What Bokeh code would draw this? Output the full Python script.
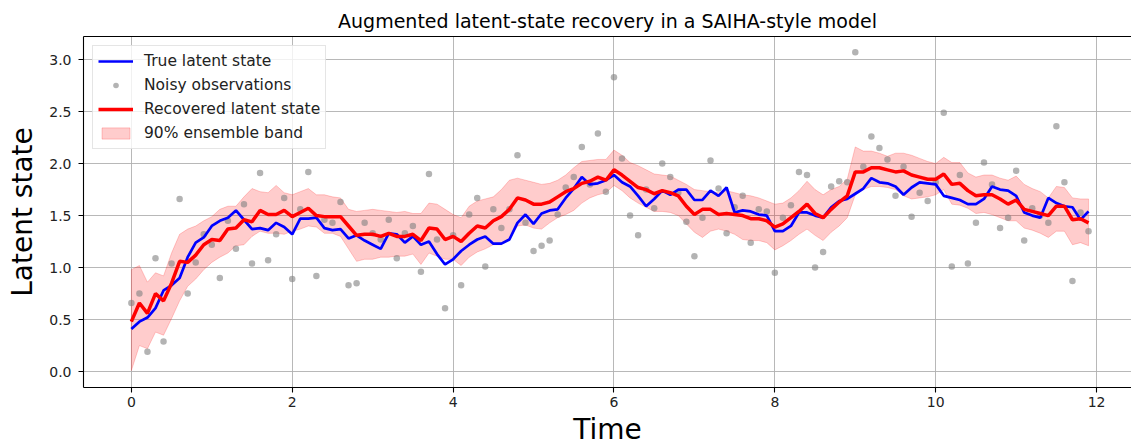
import numpy as np
from bokeh.plotting import figure
from bokeh.models import (Range1d, FixedTicker, LinearAxis, Legend, LegendItem,
                          PrintfTickFormatter)
from bokeh.embed import file_html
from bokeh.resources import INLINE

# time grid: 120 steps of 0.1
time = np.round(np.arange(120) * 0.1, 1).tolist()

true_state = [
    0.41, 0.48, 0.52, 0.61, 0.78, 0.83, 0.90, 1.10, 1.24, 1.29,
    1.40, 1.45, 1.48, 1.55, 1.46, 1.37, 1.38, 1.36, 1.43, 1.39,
    1.32, 1.47, 1.47, 1.48, 1.38, 1.36, 1.37, 1.28, 1.31, 1.26,
    1.22, 1.18, 1.33, 1.32, 1.24, 1.30, 1.22, 1.25, 1.13, 1.03,
    1.08, 1.16, 1.22, 1.27, 1.30, 1.23, 1.23, 1.27, 1.43, 1.51,
    1.42, 1.52, 1.55, 1.56, 1.67, 1.76, 1.87, 1.80, 1.81, 1.84,
    1.89, 1.82, 1.78, 1.69, 1.59, 1.66, 1.74, 1.70, 1.75, 1.75,
    1.65, 1.65, 1.74, 1.69, 1.77, 1.53, 1.55, 1.54, 1.51, 1.50,
    1.35, 1.35, 1.40, 1.53, 1.53, 1.50, 1.48, 1.58, 1.64, 1.66,
    1.71, 1.76, 1.86, 1.82, 1.81, 1.78, 1.70, 1.77, 1.82, 1.81,
    1.80, 1.69, 1.67, 1.65, 1.61, 1.61, 1.66, 1.78, 1.75, 1.74,
    1.69, 1.53, 1.50, 1.48, 1.67, 1.62, 1.59, 1.58, 1.46, 1.54,
]

recovered = [
    0.48, 0.66, 0.56, 0.75, 0.68, 0.85, 1.06, 1.05, 1.12, 1.22,
    1.27, 1.26, 1.37, 1.38, 1.46, 1.44, 1.55, 1.51, 1.51, 1.55,
    1.49, 1.53, 1.57, 1.50, 1.49, 1.49, 1.49, 1.40, 1.31, 1.32,
    1.32, 1.30, 1.33, 1.30, 1.30, 1.32, 1.26, 1.38, 1.37, 1.27,
    1.30, 1.25, 1.33, 1.40, 1.38, 1.45, 1.49, 1.56, 1.67, 1.65,
    1.61, 1.61, 1.63, 1.68, 1.73, 1.76, 1.81, 1.83, 1.87, 1.84,
    1.94, 1.89, 1.83, 1.77, 1.75, 1.71, 1.74, 1.72, 1.69, 1.59,
    1.51, 1.56, 1.56, 1.51, 1.52, 1.51, 1.50, 1.47, 1.47, 1.45,
    1.39, 1.42, 1.48, 1.54, 1.61, 1.52, 1.48, 1.56, 1.63, 1.69,
    1.92, 1.92, 1.96, 1.96, 1.94, 1.92, 1.93, 1.89, 1.87, 1.85,
    1.85, 1.90, 1.80, 1.81, 1.74, 1.69, 1.70, 1.70, 1.66, 1.61,
    1.65, 1.56, 1.54, 1.52, 1.50, 1.59, 1.59, 1.46, 1.47, 1.43,
]

band_upper = [
    0.98, 1.02, 0.86, 0.95, 0.92, 1.14, 1.32, 1.37, 1.40, 1.45,
    1.49, 1.56, 1.59, 1.59, 1.68, 1.76, 1.73, 1.72, 1.79, 1.72,
    1.70, 1.73, 1.76, 1.70, 1.70, 1.68, 1.67, 1.56, 1.54, 1.55,
    1.56, 1.55, 1.54, 1.53, 1.54, 1.52, 1.52, 1.62, 1.61, 1.56,
    1.51, 1.48, 1.59, 1.64, 1.66, 1.68, 1.75, 1.84, 1.86, 1.84,
    1.82, 1.80, 1.81, 1.84, 1.89, 1.96, 2.02, 2.03, 2.04, 2.04,
    2.13, 2.08, 2.01, 1.98, 1.94, 1.90, 1.89, 1.88, 1.84, 1.80,
    1.75, 1.74, 1.73, 1.72, 1.74, 1.72, 1.70, 1.69, 1.67, 1.64,
    1.61, 1.62, 1.67, 1.74, 1.83, 1.75, 1.70, 1.75, 1.78, 1.85,
    2.16, 2.12, 2.12, 2.10, 2.07, 2.10, 2.10, 2.08, 2.05, 2.02,
    2.00, 2.06, 2.01, 2.01, 1.91, 1.87, 1.89, 1.89, 1.86, 1.84,
    1.88, 1.80, 1.76, 1.73, 1.67, 1.78, 1.77, 1.67, 1.66, 1.66,
]

band_lower = [
    0.01, 0.25, 0.22, 0.38, 0.35, 0.51, 0.68, 0.82, 0.89, 0.98,
    1.05, 1.10, 1.14, 1.21, 1.22, 1.30, 1.35, 1.33, 1.33, 1.32,
    1.35, 1.37, 1.40, 1.39, 1.33, 1.33, 1.30, 1.18, 1.06, 1.08,
    1.08, 1.10, 1.10, 1.11, 1.11, 1.13, 1.03, 1.14, 1.11, 1.08,
    1.08, 1.02, 1.10, 1.15, 1.18, 1.22, 1.22, 1.28, 1.40, 1.41,
    1.38, 1.37, 1.43, 1.48, 1.51, 1.55, 1.62, 1.67, 1.70, 1.72,
    1.79, 1.74, 1.67, 1.62, 1.58, 1.54, 1.54, 1.53, 1.50, 1.42,
    1.34, 1.29, 1.35, 1.37, 1.35, 1.32, 1.27, 1.26, 1.26, 1.24,
    1.17, 1.21, 1.26, 1.32, 1.37, 1.31, 1.26, 1.34, 1.40, 1.48,
    1.70, 1.75, 1.78, 1.78, 1.77, 1.75, 1.69, 1.66, 1.67, 1.68,
    1.70, 1.75, 1.61, 1.60, 1.57, 1.52, 1.53, 1.51, 1.48, 1.45,
    1.45, 1.38, 1.36, 1.33, 1.29, 1.35, 1.35, 1.22, 1.24, 1.21,
]

observations = [
    0.66, 0.75, 0.19, 1.09, 0.29, 1.04, 1.66, 0.75, 1.05, 1.32,
    1.22, 0.90, 1.45, 1.18, 1.61, 1.04, 1.91, 1.07, 1.32, 1.67,
    0.89, 1.56, 1.92, 0.92, 1.46, 1.43, 1.63, 0.83, 0.85, 1.43,
    1.33, 1.27, 1.46, 1.09, 1.33, 1.40, 0.96, 1.90, 1.27, 0.61,
    1.31, 0.83, 1.51, 1.67, 1.01, 1.56, 1.38, 1.56, 2.08, 1.43,
    1.16, 1.21, 1.26, 1.51, 1.77, 1.87, 2.16, 1.80, 2.29, 1.73,
    2.83, 2.05, 1.50, 1.31, 1.75, 1.57, 2.00, 1.87, 1.72, 1.44,
    1.11, 1.48, 2.03, 1.76, 1.33, 1.58, 1.69, 1.24, 1.56, 1.54,
    0.95, 1.48, 1.60, 1.92, 1.89, 1.00, 1.15, 1.78, 1.83, 1.82,
    3.07, 1.97, 2.26, 2.15, 2.04, 1.69, 1.97, 1.49, 1.72, 1.64,
    1.82, 2.49, 1.01, 1.89, 1.04, 1.43, 2.01, 1.80, 1.38, 1.48,
    1.93, 1.26, 1.57, 1.50, 1.43, 2.36, 1.82, 0.87, 1.53, 1.35,
]

x_ticks = [0, 2, 4, 6, 8, 10, 12]
y_ticks = [0.0, 0.5, 1.0, 1.5, 2.0, 2.5, 3.0]

FONT = "DejaVu Sans"

p = figure(
    width=1131, height=448,
    x_range=Range1d(-0.595, 12.434), y_range=Range1d(-0.153, 3.222),
    output_backend="svg", toolbar_location=None,
    min_border_left=83, min_border_right=0, min_border_top=36, min_border_bottom=59,
    title="Augmented latent-state recovery in a SAIHA-style model",
)
p.background_fill_color = "white"
p.border_fill_color = "white"
p.outline_line_color = None

p.title.text_font = FONT
p.title.text_font_size = "19px"
p.title.text_font_style = "normal"
p.title.text_color = "black"
p.title.align = "center"

# axes
for ax in (p.xaxis[0], p.yaxis[0]):
    ax.axis_line_color = "black"
    ax.axis_line_width = 1.1
    ax.major_tick_line_color = "black"
    ax.major_tick_line_width = 1.1
    ax.major_tick_out = 5
    ax.major_tick_in = 0
    ax.minor_tick_line_color = None
    ax.major_label_text_font = FONT
    ax.major_label_text_font_size = "14px"
    ax.major_label_text_color = "#222222"
    ax.axis_label_text_font = FONT
    ax.axis_label_text_font_size = "28px"
    ax.axis_label_text_font_style = "normal"
    ax.axis_label_text_color = "black"

p.xaxis.ticker = FixedTicker(ticks=x_ticks)
p.yaxis.ticker = FixedTicker(ticks=y_ticks)
p.yaxis.formatter = PrintfTickFormatter(format="%.1f")
p.xaxis.axis_label = "Time"
p.yaxis.axis_label = "Latent state"
p.xaxis.major_label_standoff = 4
p.xaxis.axis_label_standoff = 3
p.yaxis.major_label_standoff = 7
p.yaxis.axis_label_standoff = 7

# top spine
top = LinearAxis(ticker=FixedTicker(ticks=[]), axis_line_color="black", axis_line_width=1.1,
                 major_tick_out=0, major_tick_in=0, major_label_text_font_size="0px")
p.add_layout(top, "above")

for g, t in ((p.xgrid[0], x_ticks), (p.ygrid[0], y_ticks)):
    g.ticker = FixedTicker(ticks=t)
    g.grid_line_color = "#b0b0b0"
    g.grid_line_width = 0.9

# ensemble band
band_x = time + time[::-1]
band_y = band_upper + band_lower[::-1]
band = p.patch(band_x, band_y, fill_color="red", fill_alpha=0.2,
               line_color="red", line_alpha=0.2, line_width=1)

obs = p.scatter(time, observations, size=6.5, fill_color="gray", fill_alpha=0.6,
                line_color=None)
true_line = p.line(time, true_state, line_color="blue", line_width=2.7)
rec_line = p.line(time, recovered, line_color="red", line_width=3.5)

legend = Legend(
    items=[
        LegendItem(label="True latent state", renderers=[true_line]),
        LegendItem(label="Noisy observations", renderers=[obs]),
        LegendItem(label="Recovered latent state", renderers=[rec_line]),
        LegendItem(label="90% ensemble band", renderers=[band]),
    ],
    location="top_left", margin=9, padding=5, spacing=4,
    glyph_width=35, glyph_height=14, label_height=20, label_standoff=11,
    label_text_font=FONT, label_text_font_size="15.5px", label_text_color="#222222",
    border_line_color="#cccccc", border_line_width=1,
    background_fill_color="white", background_fill_alpha=0.8,
)
p.add_layout(legend)

open("out.html", "w").write(file_html(p, INLINE))
